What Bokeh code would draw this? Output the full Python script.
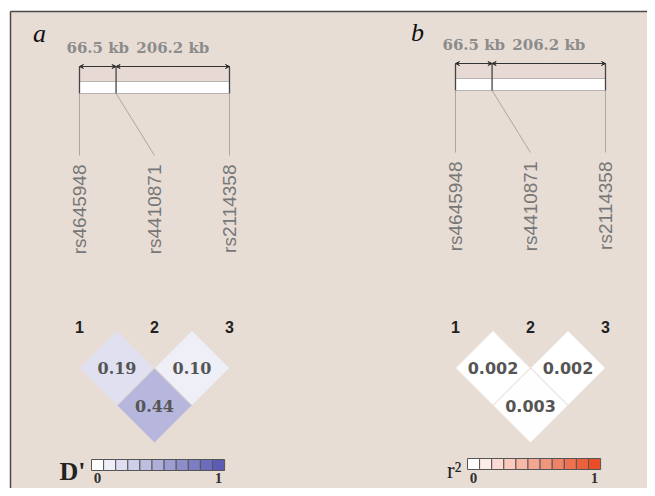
import math
from bokeh.plotting import figure
from bokeh.models import Range1d, Arrow, VeeHead
from bokeh.core.properties import value
from bokeh.embed import file_html
from bokeh.resources import INLINE

# ---------------- data ----------------
snps = ["rs4645948", "rs4410871", "rs2114358"]
snp_numbers = ["1", "2", "3"]
distances_kb = [66.5, 206.2]
distance_labels = ["66.5 kb", "206.2 kb"]
pairs = [(0, 1), (1, 2), (0, 2)]
dprime_values = [0.19, 0.10, 0.44]
dprime_labels = ["0.19", "0.10", "0.44"]
r2_values = [0.002, 0.002, 0.003]
r2_labels = ["0.002", "0.002", "0.003"]
legend_steps = [0.0, 0.1, 0.2, 0.3, 0.4, 0.5, 0.6, 0.7, 0.8, 0.9, 1.0]
legend_tick_labels = ["0", "1"]
panel_letters = ["a", "b"]
legend_titles = ["D'", "r\u00b2"]

# ---------------- style ----------------
BG = "#e8ddd5"
W, H = 647, 488
p = figure(width=W, height=H, output_backend="svg", toolbar_location=None,
           x_range=Range1d(0, W), y_range=Range1d(H, 0),
           x_axis_type=None, y_axis_type=None, min_border=0,
           background_fill_color="white", border_fill_color="white",
           outline_line_color=None)
p.grid.visible = False

# panel background + frame
p.quad(left=[10], right=[700], top=[11], bottom=[600], fill_color=BG, line_color=None)
p.segment(x0=[10, 10], y0=[11, 11], x1=[10, 700], y1=[600, 11], line_color="#4a4a4a", line_width=1.5)


def blend(end_rgb, t):
    return "#%02x%02x%02x" % tuple(int(round(255 + (c - 255) * t)) for c in end_rgb)


panels = [
    dict(letter=panel_letters[0], x0=79, arrow_y=66, ld_top=330, values=dprime_values,
         labels=dprime_labels, end=(92, 92, 180), cell_font="DejaVu Serif",
         title=legend_titles[0], title_font="Liberation Serif", title_bold=True, title_size="26px",
         leg_y=459, letter_x=39, letter_y=33, title_y=471),
    dict(letter=panel_letters[1], x0=455, arrow_y=63, ld_top=330, values=r2_values,
         labels=r2_labels, end=(234, 78, 38), cell_font="DejaVu Sans",
         title=legend_titles[1], title_font="Liberation Serif", title_bold=False, title_size="23px",
         leg_y=458, letter_x=417, letter_y=32, title_y=470),
]

BAR_W = 150.0
SPACING = 75.0
HALF = SPACING / 2

for pn in panels:
    x0 = pn["x0"]
    ay = pn["arrow_y"]
    total = sum(distances_kb)
    scale = BAR_W / total
    bar_x = [x0]
    acc = 0.0
    for d in distances_kb:
        acc += d
        bar_x.append(x0 + acc * scale)
    lab_x = [x0 + i * SPACING for i in range(len(snps))]

    # panel letter
    p.text(x=[pn["letter_x"]], y=[pn["letter_y"]], text=[pn["letter"]], text_font=value("Liberation Serif"),
           text_font_style="italic", text_font_size="26px", text_align="center",
           text_baseline="middle", text_color="#111111")

    # distance labels
    mids = [(bar_x[i] + bar_x[i + 1]) / 2 for i in range(len(distances_kb))]
    p.text(x=mids, y=[ay - 19] * len(mids), text=distance_labels, text_font=value("DejaVu Serif"),
           text_font_style="bold", text_font_size="15px", text_align="center",
           text_baseline="middle", text_color="#8c8c8c")

    # bar
    p.quad(left=[bar_x[0]], right=[bar_x[-1]], top=[ay], bottom=[ay + 27], fill_color="#e7d9d4",
           line_color="#a09a98", line_width=1)
    p.quad(left=[bar_x[0]], right=[bar_x[-1]], top=[ay + 15], bottom=[ay + 27], fill_color="white",
           line_color="#b8b2b0", line_width=1)
    p.segment(x0=bar_x, y0=[ay] * 3, x1=bar_x, y1=[ay + 27] * 3, line_color="#444444", line_width=1.3)
    # dimension arrows
    for i in range(len(distances_kb)):
        p.add_layout(Arrow(x_start=(bar_x[i] + bar_x[i + 1]) / 2, y_start=ay,
                           x_end=bar_x[i], y_end=ay, line_color="#333333", line_width=1.2,
                           end=VeeHead(size=4, line_color="#333333", line_width=1)))
        p.add_layout(Arrow(x_start=(bar_x[i] + bar_x[i + 1]) / 2, y_start=ay,
                           x_end=bar_x[i + 1], y_end=ay, line_color="#333333", line_width=1.2,
                           end=VeeHead(size=4, line_color="#333333", line_width=1)))

    # connector lines to labels
    p.segment(x0=bar_x, y0=[ay + 27] * 3, x1=lab_x, y1=[ay + 89] * 3, line_color="#a8a8a8", line_width=1)

    # SNP labels (rotated)
    p.text(x=lab_x, y=[ay + 98] * 3, text=snps, angle=math.pi / 2, text_font=value("Liberation Sans"),
           text_font_size="19px", text_align="right", text_baseline="middle", text_color="#777777")

    # SNP numbers
    p.text(x=lab_x, y=[pn["ld_top"] - 4] * 3, text=snp_numbers, text_font=value("Liberation Sans"),
           text_font_style="bold", text_font_size="16px", text_align="center",
           text_baseline="middle", text_color="#222222")

    # LD diamonds
    xs, ys, cols, cx, cy = [], [], [], [], []
    for (i, j), v in zip(pairs, pn["values"]):
        mx = (lab_x[i] + lab_x[j]) / 2
        my = pn["ld_top"] + (j - i) * HALF
        xs.append([mx, mx + HALF, mx, mx - HALF])
        ys.append([my - HALF, my, my + HALF, my])
        cols.append(blend(pn["end"], v))
        cx.append(mx)
        cy.append(my)
    p.patches(xs=xs, ys=ys, fill_color=cols, line_color=BG, line_width=1)
    p.text(x=cx, y=cy, text=pn["labels"], text_font=value(pn["cell_font"]), text_font_style="bold",
           text_font_size="16px", text_align="center", text_baseline="middle", text_color="#555555")

    # legend
    lx = x0 + 12
    cw = 12.1
    ly = pn["leg_y"]
    lefts = [lx + k * cw for k in range(len(legend_steps))]
    p.quad(left=lefts, right=[l + cw for l in lefts], top=[ly] * len(lefts), bottom=[ly + 11] * len(lefts),
           fill_color=[blend(pn["end"], s) for s in legend_steps], line_color="#555555", line_width=1)
    p.text(x=[lefts[0] + cw / 2, lefts[-1] + cw / 2], y=[477] * 2, text=legend_tick_labels,
           text_font=value("Liberation Serif"), text_font_style="bold", text_font_size="15px",
           text_align="center", text_baseline="middle", text_color="#333333")
    p.text(x=[lx - 6], y=[pn["title_y"]], text=[pn["title"]], text_font=value(pn["title_font"]),
           text_font_style="bold" if pn["title_bold"] else "normal", text_font_size=pn["title_size"],
           text_align="right", text_baseline="middle", text_color="#222222")

open("out.html", "w").write(file_html(p, INLINE))
